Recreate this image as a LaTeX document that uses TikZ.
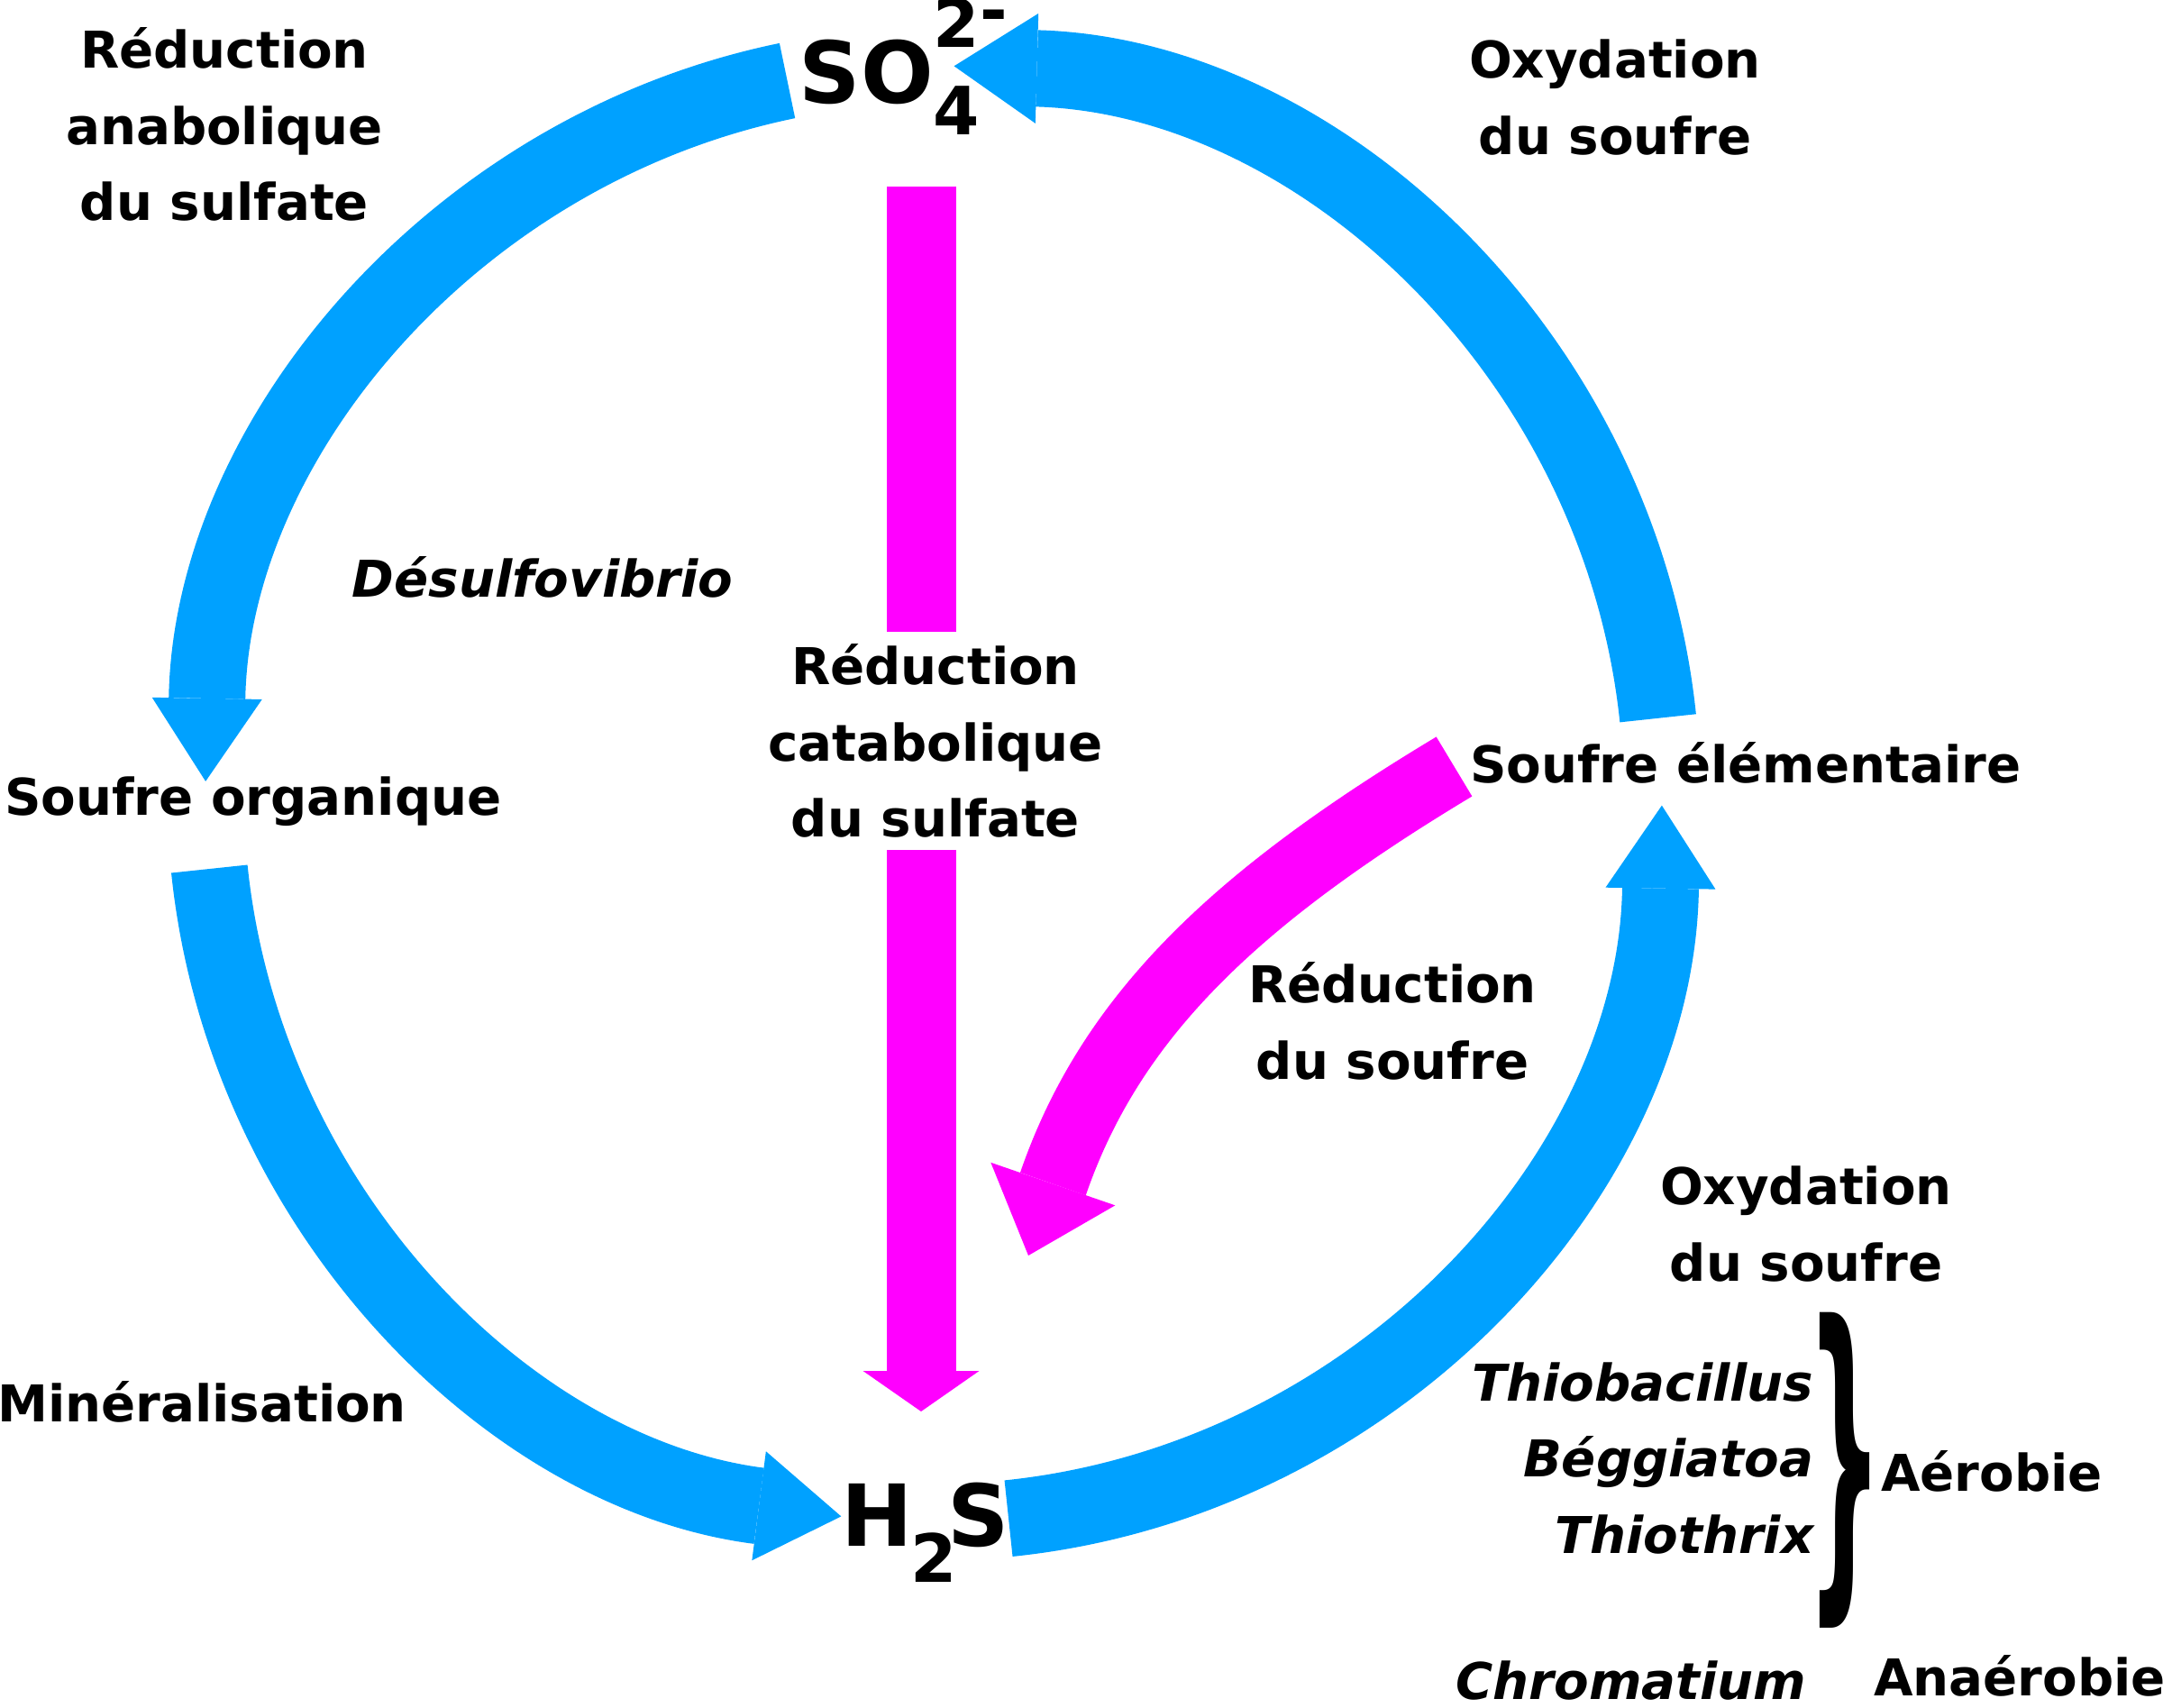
\documentclass[tikz,border=0pt]{standalone}
\usepackage{fontspec}
\usepackage{graphicx}
\setmainfont{DejaVu Sans}
\usetikzlibrary{arrows.meta}
\definecolor{sulfblue}{RGB}{0,161,255}
\definecolor{sulfpink}{RGB}{255,0,255}
\newcommand{\lblfont}{\fontsize{16}{24}\selectfont\bfseries}
\newcommand{\idxfont}{\fontsize{21}{21}\selectfont}

\begin{document}
\begin{tikzpicture}[font=\lblfont,
  cycle/.style={line width=0.85cm, draw=sulfblue, -{Triangle[length=0.92cm,width=1.22cm,line width=0pt]}},
  redux/.style={line width=0.77cm, draw=sulfpink},
  lbl/.style={align=center, inner sep=0pt},
  ital/.style={font=\lblfont\itshape},
  big/.style={font=\fontsize{27}{27}\selectfont\bfseries, inner sep=0pt}]
\useasboundingbox (0,0) rectangle (24,18.94);
\coordinate (c) at (10.36,10.13);
\node[big, anchor=base west] (so4) at (8.86,17.79) {SO\rlap{\raisebox{-0.35cm}{\idxfont 4}}\raisebox{0.62cm}{\idxfont 2\raisebox{0.15cm}{-}}};
\node[big, anchor=base west] (h2s) at (9.33,1.79) {H\kern-0.03cm\raisebox{-0.40cm}{\idxfont 2}\kern-0.1cmS};
\node (sorg) at (2.81,10.05) {Soufre organique};
\node (selem) at (19.37,10.48) {Soufre élémentaire};
\coordinate (so4 in) at ([shift={(88.4:8.08)}]c);
\coordinate (so4 out) at ([shift={(101.6:8.08)}]c);
\coordinate (sorg in) at ([shift={(179:8.08)}]c);
\coordinate (sorg out) at ([shift={(185.9:8.08)}]c);
\coordinate (h2s in) at ([shift={(262.7:8.08)}]c);
\coordinate (h2s out) at ([shift={(275.9:8.08)}]c);
\coordinate (selem in) at ([shift={(359.1:8.08)}]c);
\coordinate (selem out) at ([shift={(5.98:8.08)}]c);
\draw[cycle] (so4 out) arc[start angle=101.6, end angle=179, radius=8.08];
\draw[cycle] (selem out) arc[start angle=5.98, end angle=88.4, radius=8.08];
\draw[cycle] (sorg out) arc[start angle=185.9, end angle=262.7, radius=8.08];
\draw[cycle] (h2s out) arc[start angle=275.9, end angle=359.1, radius=8.08];
\coordinate (cata top) at (10.22,16.87);
\coordinate (cata tip) at (10.22,3.28);
\draw[redux, -{Triangle[length=0.45cm,width=1.29cm,line width=0pt]}] (cata top) -- (cata tip);
\coordinate (sred out) at (16.135,10.435);
\coordinate (sred tip) at (11.41,5.01);
\draw[redux, -{Triangle[length=0.84cm,width=1.46cm,line width=0pt]}] (sred out) to[out=211, in=71] (sred tip);
\node[lbl] (anab) at (2.49,17.56) {Réduction\\anabolique\\du sulfate};
\node[lbl] (oxtop) at (17.92,17.86) {Oxydation\\du soufre};
\node[ital] (desulfo) at (6.02,12.54) {Désulfovibrio};
\node[lbl, fill=white, inner ysep=0.14cm] (cata) at (10.38,10.72) {Réduction\\catabolique\\du sulfate};
\node[lbl] (redsoufre) at (15.45,7.61) {Réduction\\du soufre};
\node[lbl] (oxlow) at (20.04,5.36) {Oxydation\\du soufre};
\node (miner) at (2.24,3.39) {Minéralisation};
\node[ital, align=right, anchor=east, inner sep=0pt] (aerlist) at (20.13,2.76) {Thiobacillus\\Béggiatoa\\Thiothrix};
\node[inner sep=0pt] (brace) at (20.47,2.63) {\resizebox*{0.85cm}{3.5cm}{\}}};
\node (aer) at (22.10,2.62) {Aérobie};
\node[ital] (chrom) at (18.10,0.29) {Chromatium};
\node (anaer) at (22.41,0.35) {Anaérobie};
\end{tikzpicture}
\end{document}
